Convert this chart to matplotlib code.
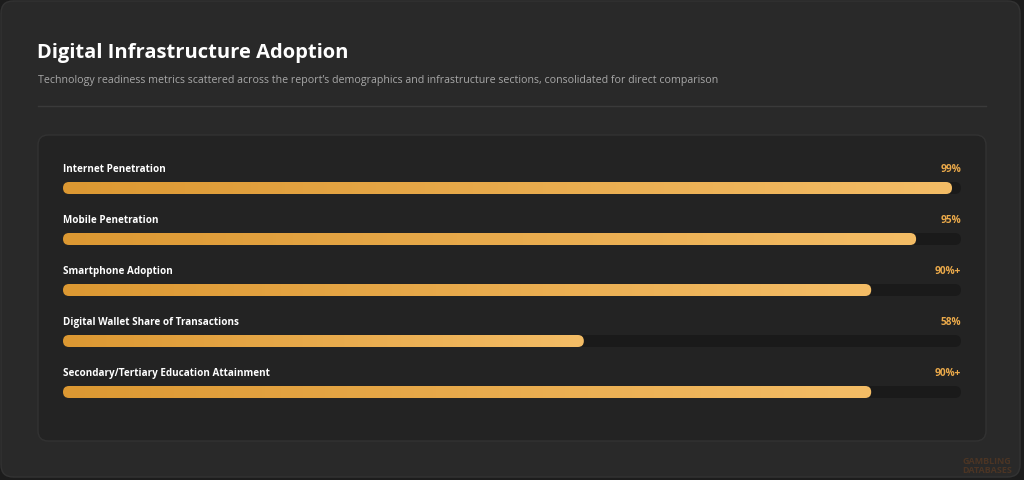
import matplotlib
matplotlib.use('Agg')
import matplotlib.pyplot as plt
import numpy as np
from matplotlib.patches import FancyBboxPatch
from matplotlib.lines import Line2D
from matplotlib.colors import LinearSegmentedColormap

# ==[0] Data
labels = ['Internet Penetration', 'Mobile Penetration', 'Smartphone Adoption',
          'Digital Wallet Share of Transactions', 'Secondary/Tertiary Education Attainment']
values = [99, 95, 90, 58, 90]
value_text = ['99%', '95%', '90%+', '58%', '90%+']

title = 'Digital Infrastructure Adoption'
subtitle = ("Technology readiness metrics scattered across the report\u2019s demographics "
            "and infrastructure sections, consolidated for direct comparison")

W, H = 1024, 480
plt.rcParams['font.family'] = ['Open Sans', 'DejaVu Sans']

fig = plt.figure(figsize=(W / 100, H / 100), dpi=100)
fig.patch.set_facecolor('#1c1c1c')


def fx(x):
    return x / W


def fy(y):
    return 1 - y / H


# ==[1] Card + inner panel
card = FancyBboxPatch((fx(1), fy(477)), fx(1019), (477 - 1) / H,
                      boxstyle='round,pad=0,rounding_size=0.012',
                      transform=fig.transFigure, facecolor='#292929',
                      edgecolor='#333333', lw=1, mutation_aspect=W / H, zorder=0)
fig.patches.append(card)
panel = FancyBboxPatch((fx(38), fy(441)), fx(948), (441 - 135) / H,
                       boxstyle='round,pad=0,rounding_size=0.01',
                       transform=fig.transFigure, facecolor='#232323',
                       edgecolor='#323232', lw=1, mutation_aspect=W / H, zorder=0.5)
fig.patches.append(panel)
fig.lines.append(Line2D([fx(38), fx(986)], [fy(106), fy(106)],
                        transform=fig.transFigure, color='#3a3a3a', lw=1))

fig.text(fx(37), fy(53), title, color='white', fontsize=14.5, fontweight='bold',
         va='center', ha='left')
fig.text(fx(38), fy(80), subtitle, color='#a8a8a8', fontsize=7.7,
         va='center', ha='left')

# ==[2] Bars
x0, x1 = 63, 961
row0, row_gap = 188, 51
n = len(labels)
top = row0 - row_gap / 2 - 20
bot = row0 + row_gap * (n - 1) + row_gap / 2
ax = fig.add_axes([fx(x0), fy(bot), fx(x1 - x0), (bot - top) / H])
ax.set_zorder(2)
ax.patch.set_visible(False)
ax.axis('off')

px_x = (x1 - x0) / 100.0       # pixels per x unit
bar_h = 12 / row_gap           # bar height in row units
rad = 6 / px_x                 # corner radius in x units
asp = px_x / row_gap

cmap = LinearSegmentedColormap.from_list('gold', ['#dc9832', '#f4bd66'])
grad = np.linspace(0, 1, 256).reshape(1, -1)

for i, (lab, v, vt) in enumerate(zip(labels, values, value_text)):
    track = FancyBboxPatch((0, i - bar_h / 2), 100, bar_h,
                           boxstyle=f'round,pad=0,rounding_size={rad}',
                           mutation_aspect=asp, facecolor='#1a1a1a',
                           edgecolor='none')
    ax.add_patch(track)
    fill = FancyBboxPatch((0, i - bar_h / 2), v, bar_h,
                          boxstyle=f'round,pad=0,rounding_size={rad}',
                          mutation_aspect=asp, facecolor='none',
                          edgecolor='none')
    ax.add_patch(fill)
    im = ax.imshow(grad, cmap=cmap, aspect='auto',
                   extent=(0, v, i + bar_h / 2, i - bar_h / 2), zorder=3)
    im.set_clip_path(fill)
    ax.text(0, i - 0.37, lab, color='white', fontsize=7.1, fontweight='bold',
            va='center', ha='left')
    ax.text(100, i - 0.37, vt, color='#eaa94a', fontsize=7.3, fontweight='bold',
            va='center', ha='right')

ax.set_xlim(0, 100)
ax.set_ylim((bot - row0) / row_gap, (top - row0) / row_gap)

# faint watermark
fig.text(fx(987), fy(466), 'GAMBLING\nDATABASES', color='#5a3a22', fontsize=6.5,
         fontweight='bold', ha='center', va='center', linespacing=0.9, alpha=0.7)

fig.savefig('out.png', dpi=100, facecolor=fig.get_facecolor())
